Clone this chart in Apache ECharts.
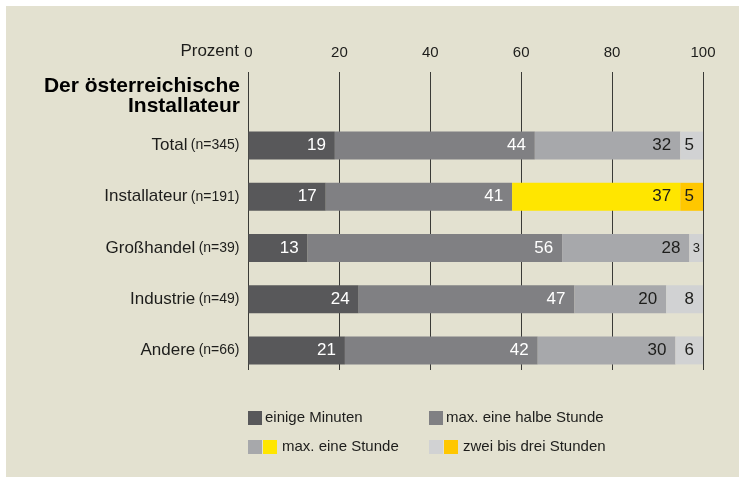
<!DOCTYPE html>
<html>
<head>
<meta charset="utf-8">
<script src="https://cdn.jsdelivr.net/npm/echarts@6/dist/echarts.min.js"></script>
<style>
  html, body { margin: 0; padding: 0; background: #ffffff; }
  #chart { position: absolute; left: 6px; top: 6px; width: 733px; height: 471px; }
</style>
</head>
<body>
<div id="chart"></div>
<script>
// Daten
var categories = ['Total', 'Installateur', 'Großhandel', 'Industrie', 'Andere'];
var counts = ['345', '191', '39', '49', '66'];
var tickLabels = [0, 20, 40, 60, 80, 100];

var minuten = [19, 17, 13, 24, 21];
var halbeStunde = [44, 41, 56, 47, 42];
var eineStunde = [32, 37, 28, 20, 30];
var zweiDrei = [5, 5, 3, 8, 6];

var seriesNames = ['einige Minuten', 'max. eine halbe Stunde', 'max. eine Stunde', 'zwei bis drei Stunden'];
var seriesColors = ['#58585a', '#808083', '#a7a8ab', '#d1d2d3'];
var highlightColors = ['#ffe600', '#ffc700']; // Installateur-Zeile
var highlightRow = 1;

var font = '"Liberation Sans", Arial, sans-serif';
var textColor = '#1d1d1b';

var myChart = echarts.init(document.getElementById('chart'));

var raw = [minuten, halbeStunde, eineStunde, zweiDrei];
// Zeilensumme, damit jeder Balken 100 % füllt
var rowSum = categories.map(function (c, i) {
  return raw.reduce(function (s, arr) { return s + arr[i]; }, 0);
});

var series = raw.map(function (arr, si) {
  return {
    name: seriesNames[si],
    type: 'bar',
    stack: 'total',
    xAxisIndex: 1,
    yAxisIndex: 1,
    barWidth: 28,
    itemStyle: { color: seriesColors[si] },
    label: {
      show: true,
      position: 'insideRight',
      distance: 9,
      fontFamily: font,
      fontSize: 17,
      color: si < 2 ? '#ffffff' : textColor,
      formatter: function (p) { return arr[p.dataIndex]; }
    },
    data: arr.map(function (v, i) {
      var item = { value: v / rowSum[i] * 100 };
      if (si >= 2 && i === highlightRow) {
        item.itemStyle = { color: highlightColors[si - 2] };
      }
      if (v < 4) {
        item.label = { fontSize: 13, distance: 3 };
      }
      return item;
    })
  };
});

// Legende als Grafik (doppelte Farbfelder)
var legendItems = [
  { x: 242, y: 405, colors: [seriesColors[0]], text: seriesNames[0] },
  { x: 423, y: 405, colors: [seriesColors[1]], text: seriesNames[1] },
  { x: 242, y: 434, colors: [seriesColors[2], highlightColors[0]], text: seriesNames[2] },
  { x: 423, y: 434, colors: [seriesColors[3], highlightColors[1]], text: seriesNames[3] }
];
var graphics = [];
legendItems.forEach(function (it) {
  it.colors.forEach(function (c, k) {
    graphics.push({
      type: 'rect',
      left: it.x + k * 15,
      top: it.y,
      shape: { width: 14, height: 14 },
      style: { fill: c }
    });
  });
  graphics.push({
    type: 'text',
    x: it.x + it.colors.length * 15 + (it.colors.length > 1 ? 4 : 2),
    y: it.y + 7,
    style: {
      text: it.text,
      font: '15px ' + font,
      fill: textColor,
      verticalAlign: 'middle'
    }
  });
});
graphics.push({
  type: 'text',
  x: 234,
  y: 70,
  style: {
    text: 'Der österreichische\nInstallateur',
    font: 'bold 21px ' + font,
    lineHeight: 20,
    fill: '#000000',
    align: 'right',
    verticalAlign: 'top'
  }
});
graphics.push({
  type: 'text',
  x: 233,
  y: 45,
  style: {
    text: 'Prozent',
    font: '17px ' + font,
    fill: textColor,
    align: 'right',
    verticalAlign: 'middle'
  }
});

var option = {
  animation: false,
  backgroundColor: '#e3e1d0',
  grid: [
    { left: 242.5, right: 36, top: 66, height: 298 },
    { left: 242.5, right: 36, top: 114, height: 256 }
  ],
  xAxis: [
    {
      gridIndex: 0,
      type: 'value',
      position: 'top',
      min: tickLabels[0],
      max: tickLabels[tickLabels.length - 1],
      interval: 20,
      axisLine: { show: false },
      axisTick: { show: false },
      axisLabel: {
        margin: 12,
        fontFamily: font,
        fontSize: 15,
        color: textColor
      },
      splitLine: {
        show: true,
        lineStyle: { color: '#3a3a36', width: 1 }
      }
    },
    {
      gridIndex: 1,
      type: 'value',
      min: 0,
      max: 100,
      show: false
    }
  ],
  yAxis: [
    { gridIndex: 0, type: 'value', show: false },
    {
      gridIndex: 1,
      type: 'category',
      inverse: true,
      data: categories,
      axisLine: { show: false },
      axisTick: { show: false },
      splitLine: { show: false },
      axisLabel: {
        margin: 9,
        formatter: function (v, i) {
          return '{a|' + v + '} {b|(n=' + counts[i] + ')}';
        },
        rich: {
          a: { fontFamily: font, fontSize: 17, color: textColor },
          b: { fontFamily: font, fontSize: 14, color: textColor }
        }
      }
    }
  ],
  series: series,
  graphic: graphics
};

myChart.setOption(option);
window.addEventListener('resize', function () {
  myChart.resize();
});
</script>
</body>
</html>
